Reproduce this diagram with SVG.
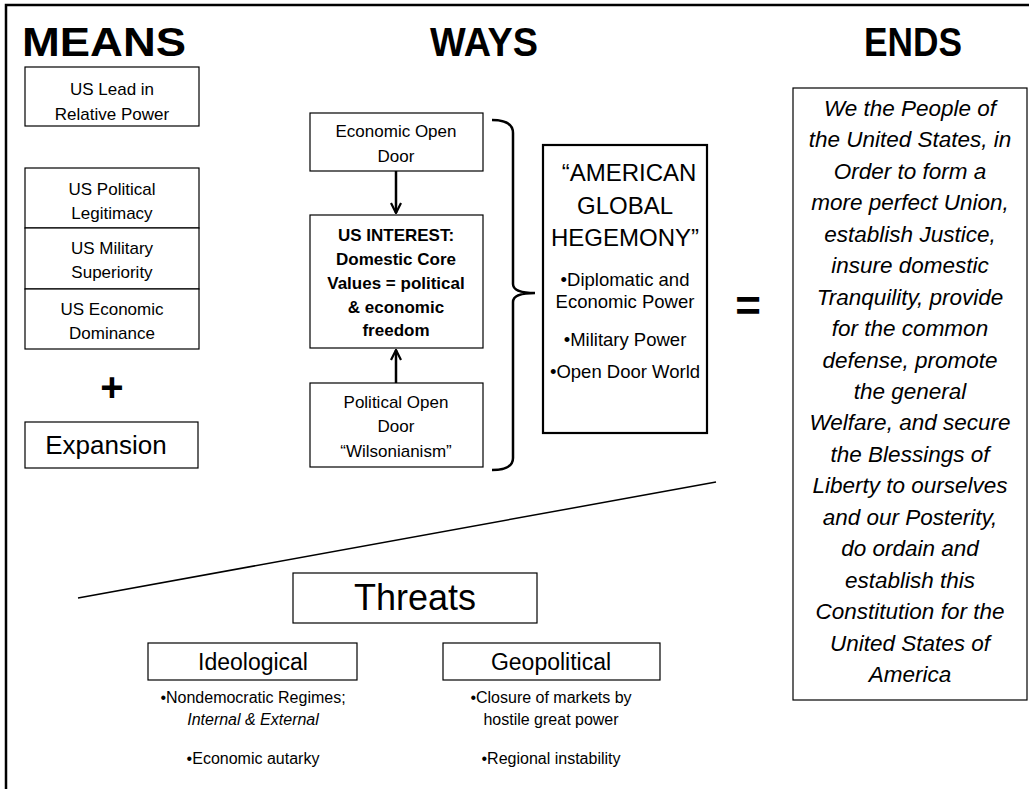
<svg xmlns="http://www.w3.org/2000/svg" width="1034" height="789" viewBox="0 0 1034 789">
<defs>
<style>
text{font-family:"Liberation Sans",Arial,sans-serif;fill:#000;text-anchor:middle}
.h{font-weight:bold;font-size:41px}
.b{font-size:17px}
.bb{font-size:17px;font-weight:bold}
.box{fill:#fff;stroke:#000;stroke-width:1.2}
.it{font-style:italic;font-size:22.5px}
.hg{font-size:24px}
.hb{font-size:18.5px}
.sm{font-size:16px}
.conn{fill:none;stroke:#000;stroke-width:2.5}
</style>
<marker id="ah" viewBox="0 0 12 12" refX="11" refY="6" markerWidth="12" markerHeight="12" markerUnits="userSpaceOnUse" orient="auto">
<path d="M1,1 L11,6 L1,11" fill="none" stroke="#000" stroke-width="2.2"/>
</marker>
</defs>
<rect width="1034" height="789" fill="#fff"/>
<g id="frame">
<path d="M6,789 L6,5 L1029,5" fill="none" stroke="#000" stroke-width="2.5"/>
</g>
<g id="titles">
<text class="h" x="104" y="56" textLength="164" lengthAdjust="spacingAndGlyphs">MEANS</text>
<text class="h" x="484" y="56" textLength="108" lengthAdjust="spacingAndGlyphs">WAYS</text>
<text class="h" x="913" y="56" textLength="98" lengthAdjust="spacingAndGlyphs">ENDS</text>
</g>
<g id="means-lead">
<rect class="box" x="25" y="67" width="174" height="59"/>
<text class="b" x="112" y="95">US Lead in</text>
<text class="b" x="112" y="120">Relative Power</text>
</g>
<g id="means-political">
<rect class="box" x="25" y="168" width="174" height="60"/>
<text class="b" x="112" y="195">US Political</text>
<text class="b" x="112" y="219">Legitimacy</text>
</g>
<g id="means-military">
<rect class="box" x="25" y="228" width="174" height="61"/>
<text class="b" x="112" y="254">US Military</text>
<text class="b" x="112" y="278">Superiority</text>
</g>
<g id="means-economic">
<rect class="box" x="25" y="289" width="174" height="60"/>
<text class="b" x="112" y="315">US Economic</text>
<text class="b" x="112" y="339">Dominance</text>
</g>
<g id="plus">
<text x="112" y="401" style="font-size:40px;font-weight:bold">+</text>
</g>
<g id="means-expansion">
<rect class="box" x="25" y="422" width="173" height="46"/>
<text x="106" y="454" style="font-size:26px">Expansion</text>
</g>
<g id="ways-economic">
<rect class="box" x="310" y="113" width="173" height="58"/>
<text class="b" x="396" y="137">Economic Open</text>
<text class="b" x="396" y="162">Door</text>
</g>
<g id="ways-interest">
<rect class="box" x="310" y="215" width="173" height="133"/>
<text class="bb" x="396" y="241">US INTEREST:</text>
<text class="bb" x="396" y="265">Domestic Core</text>
<text class="bb" x="396" y="289">Values = political</text>
<text class="bb" x="396" y="313">&amp; economic</text>
<text class="bb" x="396" y="336">freedom</text>
</g>
<g id="ways-political">
<rect class="box" x="310" y="383" width="173" height="84"/>
<text class="b" x="396" y="408">Political Open</text>
<text class="b" x="396" y="432">Door</text>
<text class="b" x="396" y="457">“Wilsonianism”</text>
</g>
<g id="hegemony">
<rect x="543" y="145" width="164" height="288" fill="#fff" stroke="#000" stroke-width="2.2"/>
<text class="hg" x="629" y="181">“AMERICAN</text>
<text class="hg" x="625" y="214">GLOBAL</text>
<text class="hg" x="625" y="246">HEGEMONY”</text>
<text class="hb" x="625" y="286">•Diplomatic and</text>
<text class="hb" x="625" y="308">Economic Power</text>
<text class="hb" x="625" y="346">•Military Power</text>
<text class="hb" x="625" y="378">•Open Door World</text>
</g>
<g id="equals">
<text x="748" y="321" style="font-size:44px;font-weight:bold">=</text>
</g>
<g id="ends">
<rect class="box" x="793" y="88" width="234" height="612"/>
<text class="it" x="910" y="116">We the People of</text>
<text class="it" x="910" y="147.4">the United States, in</text>
<text class="it" x="910" y="178.9">Order to form a</text>
<text class="it" x="910" y="210.3">more perfect Union,</text>
<text class="it" x="910" y="241.8">establish Justice,</text>
<text class="it" x="910" y="273.2">insure domestic</text>
<text class="it" x="910" y="304.7">Tranquility, provide</text>
<text class="it" x="910" y="336.1">for the common</text>
<text class="it" x="910" y="367.6">defense, promote</text>
<text class="it" x="910" y="399">the general</text>
<text class="it" x="910" y="430.4">Welfare, and secure</text>
<text class="it" x="910" y="461.9">the Blessings of</text>
<text class="it" x="910" y="493.3">Liberty to ourselves</text>
<text class="it" x="910" y="524.8">and our Posterity,</text>
<text class="it" x="910" y="556.2">do ordain and</text>
<text class="it" x="910" y="587.7">establish this</text>
<text class="it" x="910" y="619.1">Constitution for the</text>
<text class="it" x="910" y="650.6">United States of</text>
<text class="it" x="910" y="682">America</text>
</g>
<g id="threats">
<rect class="box" x="293" y="573" width="244" height="50"/>
<text x="415" y="610" style="font-size:36px">Threats</text>
</g>
<g id="ideological">
<rect class="box" x="148" y="643" width="209" height="37"/>
<text x="253" y="670" style="font-size:23px">Ideological</text>
<text class="sm" x="253" y="703">•Nondemocratic Regimes;</text>
<text class="sm" x="253" y="725" style="font-style:italic">Internal &amp; External</text>
<text class="sm" x="253" y="764">•Economic autarky</text>
</g>
<g id="geopolitical">
<rect class="box" x="443" y="643" width="217" height="37"/>
<text x="551" y="670" style="font-size:23px">Geopolitical</text>
<text class="sm" x="551" y="703">•Closure of markets by</text>
<text class="sm" x="551" y="725">hostile great power</text>
<text class="sm" x="551" y="764">•Regional instability</text>
</g>
<g id="connectors">
<line class="conn" x1="396" y1="171" x2="396" y2="213" marker-end="url(#ah)"/>
<line class="conn" x1="396" y1="383" x2="396" y2="350" marker-end="url(#ah)"/>
<path class="conn" d="M492,120 Q513,120 513,133 L513,284 Q513,293 535,293 Q513,293 513,302 L513,458 Q513,470 492,470"/>
<line x1="78" y1="598" x2="716" y2="482" stroke="#000" stroke-width="1.5"/>
</g>
</svg>
